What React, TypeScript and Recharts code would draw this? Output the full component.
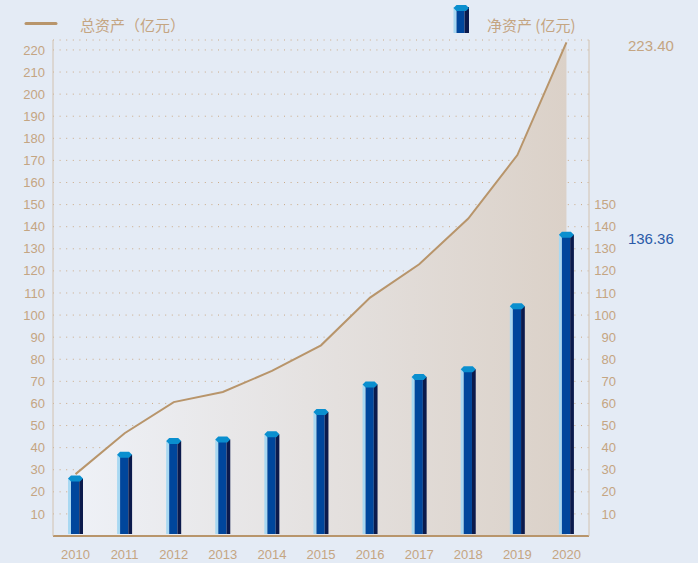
import React from 'react';
import { ComposedChart, Area, Bar, XAxis, YAxis, CartesianGrid } from 'recharts';

const years = ['2010', '2011', '2012', '2013', '2014', '2015', '2016', '2017', '2018', '2019', '2020'];
const totalAssets = [28, 46.5, 60.6, 65.2, 74.7, 86.3, 107.9, 123.0, 143.7, 172.4, 223.4];
const netAssets = [26, 36.8, 43, 43.7, 46, 56.1, 68.6, 72.0, 75.5, 104, 136.36];
const leftTicks = [10, 20, 30, 40, 50, 60, 70, 80, 90, 100, 110, 120, 130, 140, 150, 160, 170, 180, 190, 200, 210, 220];
const rightTicks = [10, 20, 30, 40, 50, 60, 70, 80, 90, 100, 110, 120, 130, 140, 150];
const totalLabel = '223.40';
const netLabel = '136.36';
const totalName = '总资产（亿元）';
const netName = '净资产 (亿元)';

const data = years.map((y, i) => ({ year: y, total: totalAssets[i], net: netAssets[i] }));

const BG = '#e4ebf5';
const TAN = '#c4a582';
const LINE = '#b8956b';
const FONT = '"Liberation Sans", Arial, sans-serif';
const CJK = '"Noto Sans CJK SC", "Liberation Sans", sans-serif';

const Cylinder = (props: any) => {
  const { x, y, width, height } = props;
  if (width == null || height == null || isNaN(y)) return null;
  const w = width;
  const l = w * 0.2;
  const m = w * 0.55;
  const bottom = y + height - 2;
  const cy = y;
  return (
    <g>
      <rect x={x} y={cy} width={l} height={bottom - cy} fill="#a8d8f2" />
      <rect x={x + l} y={cy} width={m} height={bottom - cy} fill="#00469c" />
      <rect x={x + l + m} y={cy} width={w - l - m} height={bottom - cy} fill="#0b1a4c" />
      <polygon
        points={`${x},${cy} ${x + 3},${cy - 3} ${x + w - 3},${cy - 3} ${x + w},${cy} ${x + w - 3},${cy + 3} ${x + 3},${cy + 3}`}
        fill="#0a8fcf"
      />
    </g>
  );
};

const RightTick = (props: any) => {
  const { x, y, payload } = props;
  return (
    <text x={x + 19} y={y} dy="0.355em" textAnchor="end" fill={TAN} fontSize={13} fontFamily={FONT}>
      {payload.value}
    </text>
  );
};

const TotalLabel = (props: any) => {
  const { x, y, index } = props;
  if (index !== years.length - 1) return null;
  return (
    <text x={x + 61.5} y={y + 9} textAnchor="start" fill={TAN} fontSize={15} fontFamily={FONT}>
      {totalLabel}
    </text>
  );
};

const NetLabel = (props: any) => {
  const { x, y, width, index } = props;
  if (index !== years.length - 1) return null;
  return (
    <text x={x + width / 2 + 61.5} y={y + 9.5} textAnchor="start" fill="#2a5aa8" fontSize={15} fontFamily={FONT}>
      {netLabel}
    </text>
  );
};

export default function App() {
  return (
    <div
      style={{
        position: 'absolute',
        left: 0,
        top: 0,
        width: 698,
        height: 563,
        background: BG,
        fontFamily: FONT,
        overflow: 'hidden',
      }}
    >
      <svg width={698} height={40} style={{ position: 'absolute', left: 0, top: 0 }}>
        <line x1={26} y1={23.5} x2={56} y2={23.5} stroke={LINE} strokeWidth={3} strokeLinecap="round" />
        <text x={80} y={31} fill={TAN} fontSize={15} fontFamily={CJK}>
          {totalName}
        </text>
        <rect x={453.5} y={7} width={3} height={26} fill="#a8d8f2" />
        <rect x={456.5} y={7} width={8} height={26} fill="#00469c" />
        <rect x={464.5} y={7} width={4.5} height={26} fill="#0b1a4c" />
        <polygon points="453.5,8 456.5,5 466,5 469,8 466,11 456.5,11" fill="#0a8fcf" />
        <text x={487} y={30.5} fill={TAN} fontSize={15} fontFamily={CJK}>
          {netName}
        </text>
      </svg>
      <div style={{ position: 'absolute', left: 0, top: 0 }}>
        <ComposedChart width={698} height={563} data={data} margin={{ top: 40, right: 0, bottom: 0, left: 0 }}>
          <defs>
            <linearGradient id="areaFill" x1="0" y1="0" x2="1" y2="0">
              <stop offset="0%" stopColor="#eef1f7" />
              <stop offset="100%" stopColor="#dbd1c8" />
            </linearGradient>
          </defs>
          <CartesianGrid
            yAxisId="left"
            vertical={false}
            horizontal
            stroke="#cba985"
            strokeDasharray="1 5.6"
            strokeWidth={1}
          />
          <XAxis
            dataKey="year"
            height={27}
            padding={{ left: -2, right: -2 }}
            axisLine={{ stroke: LINE, strokeWidth: 2 }}
            tickLine={false}
            tickMargin={8}
            tick={{ fill: TAN, fontSize: 13, fontFamily: FONT }}
            interval={0}
          />
          <YAxis
            yAxisId="left"
            orientation="left"
            width={53}
            domain={[0, 224.5]}
            ticks={leftTicks}
            interval={0}
            axisLine={{ stroke: '#d2c2b0', strokeWidth: 1 }}
            tickLine={false}
            tick={{ fill: TAN, fontSize: 13, fontFamily: FONT }}
          />
          <YAxis
            yAxisId="right"
            orientation="right"
            width={109}
            domain={[0, 224.5]}
            ticks={rightTicks}
            interval={0}
            axisLine={{ stroke: '#d2c2b0', strokeWidth: 1 }}
            tickLine={false}
            tick={<RightTick />}
          />
          <Area
            yAxisId="left"
            type="linear"
            dataKey="total"
            stroke={LINE}
            strokeWidth={2}
            fill="url(#areaFill)"
            fillOpacity={1}
            dot={false}
            activeDot={false}
            label={<TotalLabel />}
            isAnimationActive={false}
          />
          <Bar
            yAxisId="right"
            dataKey="net"
            barSize={15}
            shape={<Cylinder />}
            label={<NetLabel />}
            isAnimationActive={false}
          />
        </ComposedChart>
      </div>
    </div>
  );
}
